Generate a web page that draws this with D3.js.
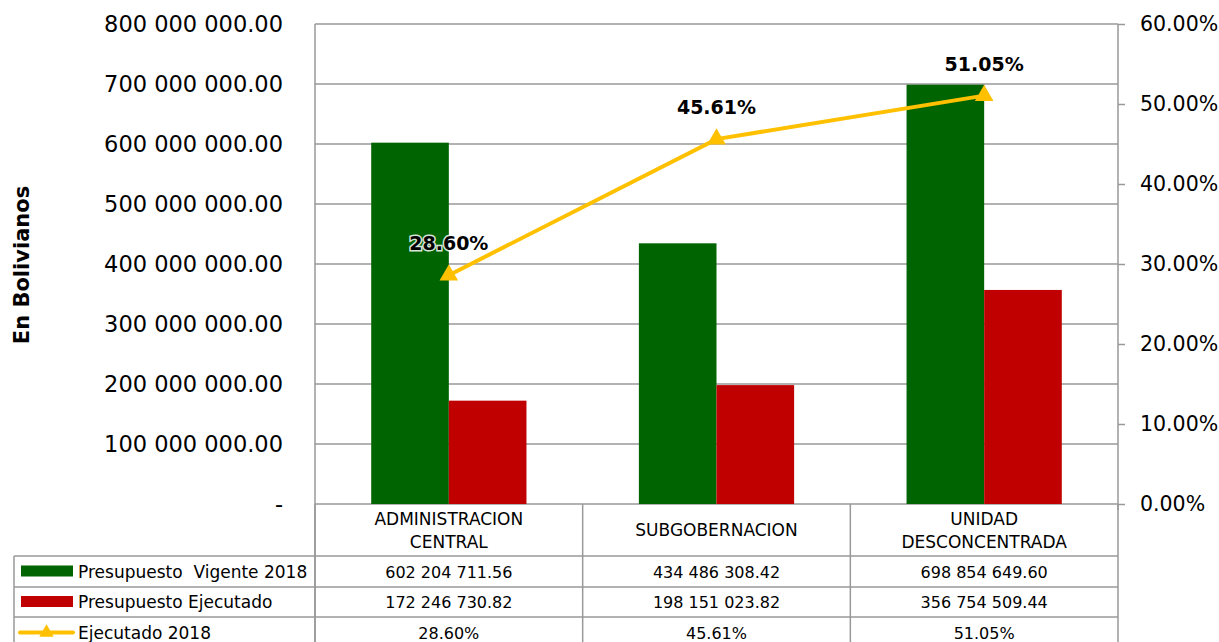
<!DOCTYPE html>
<html>
<head>
<meta charset="utf-8">
<script src="https://cdn.jsdelivr.net/npm/d3@7"></script>
<style>
  body { margin: 0; background: #fff; }
  text { font-family: "DejaVu Sans", sans-serif; fill: #000; }
</style>
</head>
<body>
<svg id="chart" width="1219" height="642"></svg>
<script>
const categories = [`ADMINISTRACION CENTRAL`, `SUBGOBERNACION`, `UNIDAD DESCONCENTRADA`];
const categoryLines = [[`ADMINISTRACION`, `CENTRAL`], [`SUBGOBERNACION`], [`UNIDAD`, `DESCONCENTRADA`]];
const vigente = [602204711.56, 434486308.42, 698854649.60];
const ejecutado = [172246730.82, 198151023.82, 356754509.44];
const porcentaje = [28.60, 45.61, 51.05];
const leftTicks = [0, 100e6, 200e6, 300e6, 400e6, 500e6, 600e6, 700e6, 800e6];
const rightTicks = [0, 10, 20, 30, 40, 50, 60];
const seriesNames = [`Presupuesto  Vigente 2018`, `Presupuesto Ejecutado`, `Ejecutado 2018`];

const green = `#006400`;
const red = `#c00000`;
const yellow = `#ffc000`;
const gridColor = `#999999`;

const plotLeft = 315, plotRight = 1118, plotTop = 24, plotBottom = 504;
const rowBreaks = [504, 556, 587, 617, 648];

const locale = d3.formatLocale({ decimal: `.`, thousands: ` `, grouping: [3], currency: [``, ``] });
const fmtNum = locale.format(`,.2f`);
const fmtPct = d => `${d.toFixed(2)}%`;

const svg = d3.select(`#chart`);

const x = d3.scaleBand().domain(categories).range([plotLeft, plotRight]);
const xInner = d3.scaleBand().domain([0, 1]).range([0, x.bandwidth() * 0.58]);
const yLeft = d3.scaleLinear().domain([0, 800e6]).range([plotBottom, plotTop]);
const yRight = d3.scaleLinear().domain([0, 60]).range([plotBottom, plotTop]);

// gridlines
svg.append(`g`).selectAll(`line`)
    .data(leftTicks)
    .join(`line`)
    .attr(`x1`, plotLeft).attr(`x2`, plotRight)
    .attr(`y1`, d => yLeft(d)).attr(`y2`, d => yLeft(d))
    .attr(`stroke`, gridColor)
    .attr(`stroke-width`, 1.5);

// left axis labels
const leftAxis = svg.append(`g`)
    .attr(`transform`, `translate(${plotLeft},0)`)
    .call(d3.axisLeft(yLeft).tickValues(leftTicks).tickSize(0).tickPadding(32)
        .tickFormat(d => d === 0 ? `-` : fmtNum(d)));
leftAxis.select(`.domain`).remove();
leftAxis.selectAll(`text`)
    .attr(`font-size`, 22.5)
    .attr(`font-family`, `DejaVu Sans`);

// right axis
const rightAxis = svg.append(`g`)
    .attr(`transform`, `translate(${plotRight},0)`)
    .call(d3.axisRight(yRight).tickValues(rightTicks).tickSize(7).tickPadding(15)
        .tickFormat(fmtPct));
rightAxis.select(`.domain`).attr(`stroke`, gridColor).attr(`stroke-width`, 1.5)
    .attr(`d`, `M0,${plotTop}V${plotBottom + 6}`);
rightAxis.selectAll(`line`).attr(`stroke`, gridColor).attr(`stroke-width`, 1.5);
rightAxis.selectAll(`text`)
    .attr(`font-size`, 20.5)
    .attr(`font-family`, `DejaVu Sans`);

// left axis line
svg.append(`line`)
    .attr(`x1`, plotLeft).attr(`x2`, plotLeft)
    .attr(`y1`, plotTop).attr(`y2`, 642)
    .attr(`stroke`, gridColor).attr(`stroke-width`, 1.5);

// bars
const groups = svg.append(`g`).selectAll(`g`)
    .data(categories)
    .join(`g`)
    .attr(`transform`, d => `translate(${x(d) + (x.bandwidth() - xInner.range()[1]) / 2},0)`);

groups.append(`rect`)
    .attr(`x`, xInner(0))
    .attr(`width`, xInner.bandwidth())
    .attr(`y`, (d, i) => yLeft(vigente[i]))
    .attr(`height`, (d, i) => plotBottom - yLeft(vigente[i]))
    .attr(`fill`, green);

groups.append(`rect`)
    .attr(`x`, xInner(1))
    .attr(`width`, xInner.bandwidth())
    .attr(`y`, (d, i) => yLeft(ejecutado[i]))
    .attr(`height`, (d, i) => plotBottom - yLeft(ejecutado[i]))
    .attr(`fill`, red);

// line
const cx = i => x(categories[i]) + x.bandwidth() / 2;
svg.append(`path`)
    .datum(porcentaje)
    .attr(`d`, d3.line().x((d, i) => cx(i)).y(d => yRight(d)))
    .attr(`fill`, `none`)
    .attr(`stroke`, yellow)
    .attr(`stroke-width`, 4);

svg.append(`g`).selectAll(`path`)
    .data(porcentaje)
    .join(`path`)
    .attr(`d`, d3.symbol(d3.symbolTriangle, 150))
    .attr(`transform`, (d, i) => `translate(${cx(i)},${yRight(d)})`)
    .attr(`fill`, yellow);

svg.append(`g`).selectAll(`text`)
    .data(porcentaje)
    .join(`text`)
    .attr(`x`, (d, i) => cx(i))
    .attr(`y`, d => yRight(d) - 25)
    .attr(`text-anchor`, `middle`)
    .attr(`font-size`, 19)
    .attr(`font-weight`, `bold`)
    .attr(`stroke`, `rgba(255,255,255,0.85)`)
    .attr(`stroke-width`, 3)
    .attr(`paint-order`, `stroke`)
    .text(fmtPct);

// y title
svg.append(`text`)
    .attr(`transform`, `translate(29,265) rotate(-90)`)
    .attr(`text-anchor`, `middle`)
    .attr(`font-size`, 21)
    .attr(`font-weight`, `bold`)
    .text(`En Bolivianos`);

// data table
const table = svg.append(`g`);
const tableStroke = line => line.attr(`stroke`, gridColor).attr(`stroke-width`, 1.5);

[...categories.map(c => x(c)), plotRight].forEach(px => {
    table.append(`line`).attr(`x1`, px).attr(`x2`, px)
        .attr(`y1`, plotBottom).attr(`y2`, 642).call(tableStroke);
});
rowBreaks.slice(1).forEach(py => {
    table.append(`line`).attr(`x1`, 14).attr(`x2`, plotRight)
        .attr(`y1`, py).attr(`y2`, py).call(tableStroke);
});
table.append(`line`).attr(`x1`, 14).attr(`x2`, 14)
    .attr(`y1`, rowBreaks[1]).attr(`y2`, 642).call(tableStroke);

// header
categoryLines.forEach((lines, i) => {
    const mid = (rowBreaks[0] + rowBreaks[1]) / 2;
    lines.forEach((ln, j) => {
        table.append(`text`)
            .attr(`x`, cx(i))
            .attr(`y`, mid + (j - (lines.length - 1) / 2) * 23 + 6)
            .attr(`text-anchor`, `middle`)
            .attr(`font-size`, 17)
            .text(ln);
    });
});

const rowMid = r => (rowBreaks[r + 1] + rowBreaks[r + 2]) / 2;
const rows = [vigente.map(fmtNum), ejecutado.map(fmtNum), porcentaje.map(fmtPct)];
rows.forEach((vals, r) => {
    const mid = rowMid(r);
    vals.forEach((v, i) => {
        table.append(`text`)
            .attr(`x`, cx(i))
            .attr(`y`, mid + 6)
            .attr(`text-anchor`, `middle`)
            .attr(`font-size`, 16)
            .text(v);
    });
    table.append(`text`)
        .attr(`x`, 78)
        .attr(`y`, mid + 6)
        .attr(`font-size`, 17)
        .style(`white-space`, `pre`)
        .text(seriesNames[r]);
});

// legend keys
table.append(`rect`).attr(`x`, 21).attr(`y`, rowMid(0) - 6).attr(`width`, 52).attr(`height`, 11).attr(`fill`, green);
table.append(`rect`).attr(`x`, 21).attr(`y`, rowMid(1) - 6).attr(`width`, 52).attr(`height`, 11).attr(`fill`, red);
table.append(`line`).attr(`x1`, 20).attr(`x2`, 73).attr(`y1`, rowMid(2)).attr(`y2`, rowMid(2))
    .attr(`stroke`, yellow).attr(`stroke-width`, 4).attr(`stroke-linecap`, `round`);
table.append(`path`)
    .attr(`d`, d3.symbol(d3.symbolTriangle, 90))
    .attr(`transform`, `translate(46.5,${rowMid(2)})`)
    .attr(`fill`, yellow);
</script>
</body>
</html>
